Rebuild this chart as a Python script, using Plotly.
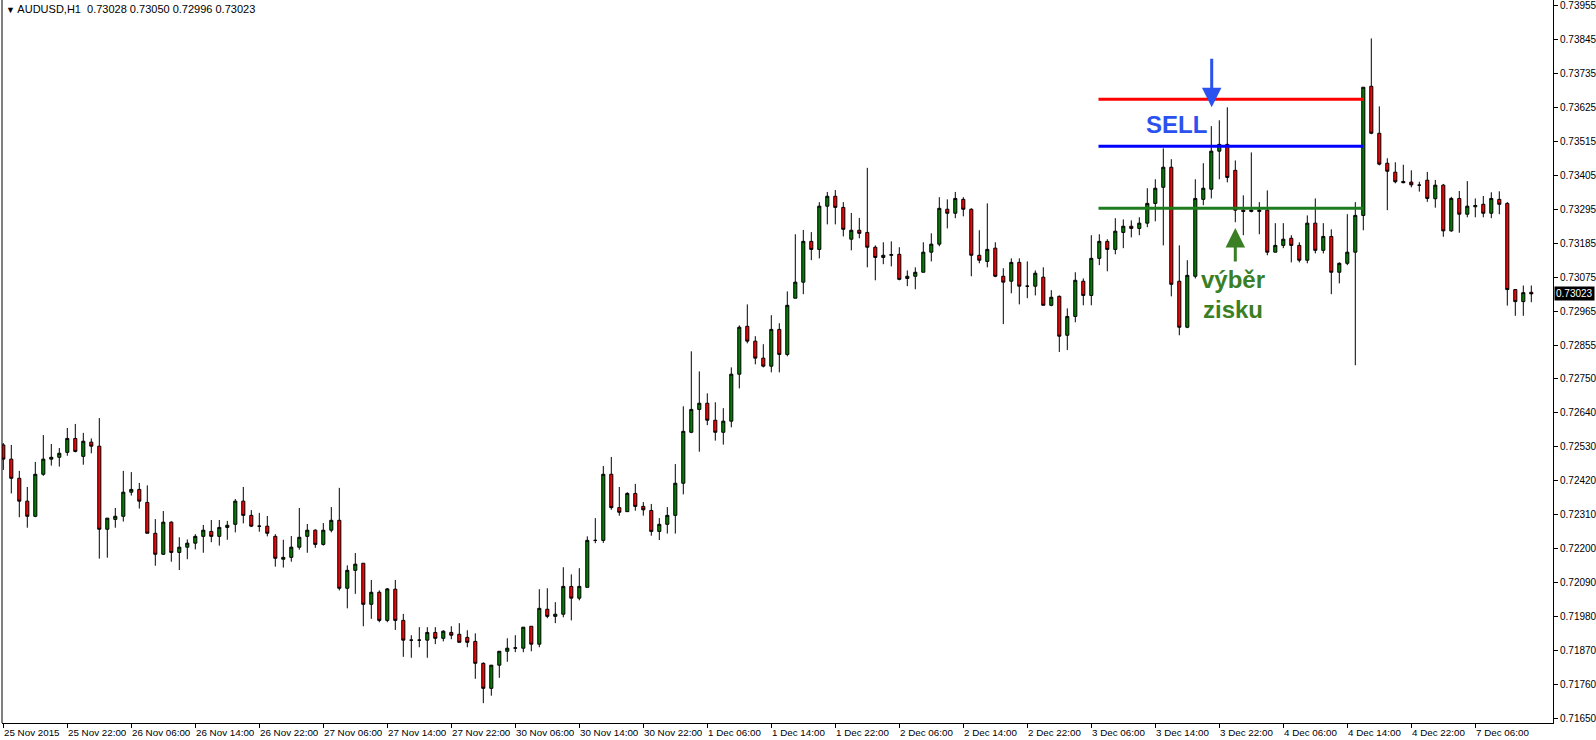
import pandas as pd
import plotly.graph_objects as go

# ---------------- data ----------------
times = pd.date_range("2015-11-25 14:00", "2015-12-07 13:00", freq="h")
times = times[times.dayofweek < 5]
categories = [t.strftime("%Y-%m-%d %H:%M") for t in times]

open_ = [
    0.72534, 0.72488, 0.72426, 0.72352, 0.72303, 0.72439, 0.72488, 0.72494, 0.72510, 0.72555,
    0.72497, 0.72543, 0.72530, 0.72261, 0.72293, 0.72303, 0.72381, 0.72390, 0.72348, 0.72248,
    0.72180, 0.72284, 0.72186, 0.72203, 0.72216, 0.72238, 0.72254, 0.72238, 0.72267, 0.72277,
    0.72352, 0.72306, 0.72271, 0.72271, 0.72238, 0.72164, 0.72170, 0.72203, 0.72238, 0.72258,
    0.72212, 0.72258, 0.72290, 0.72070, 0.72128, 0.72151, 0.72018, 0.72057, 0.71966, 0.72067,
    0.71966, 0.71902, 0.71902, 0.71902, 0.71927, 0.71908, 0.71927, 0.71921, 0.71911, 0.71898,
    0.71827, 0.71746, 0.71821, 0.71866, 0.71876, 0.71876, 0.71947, 0.71889, 0.72002, 0.71979,
    0.71986, 0.72076, 0.72038, 0.72073, 0.72225, 0.72225, 0.72439, 0.72331, 0.72318, 0.72377,
    0.72335, 0.72322, 0.72254, 0.72277, 0.72306, 0.72410, 0.72575, 0.72649, 0.72669, 0.72614,
    0.72575, 0.72611, 0.72763, 0.72918, 0.72870, 0.72815, 0.72789, 0.72908, 0.72827, 0.73009,
    0.73061, 0.73193, 0.73167, 0.73307, 0.73339, 0.73303, 0.73200, 0.73229, 0.73222, 0.73174,
    0.73141, 0.73148, 0.73151, 0.73073, 0.73080, 0.73093, 0.73158, 0.73184, 0.73297, 0.73284,
    0.73329, 0.73297, 0.73148, 0.73128, 0.73171, 0.73080, 0.73064, 0.73125, 0.73048, 0.73048,
    0.73077, 0.72986, 0.73015, 0.72889, 0.72950, 0.73064, 0.73018, 0.73138, 0.73193, 0.73167,
    0.73222, 0.73242, 0.73235, 0.73252, 0.73316, 0.73368, 0.73433, 0.73064, 0.72915, 0.73080,
    0.73329, 0.73362, 0.73485, 0.73507, 0.73423, 0.73294, 0.73290, 0.73290, 0.73294, 0.73158,
    0.73180, 0.73203, 0.73180, 0.73132, 0.73252, 0.73164, 0.73209, 0.73093, 0.73122, 0.73158,
    0.73277, 0.73695, 0.73543, 0.73446, 0.73417, 0.73387, 0.73385, 0.73375, 0.73391, 0.73331,
    0.73375, 0.73227, 0.73332, 0.73281, 0.73305, 0.73313, 0.73284, 0.73329, 0.73316, 0.73037,
    0.72998, 0.73028,
]

high = [
    0.72540, 0.72534, 0.72450, 0.72398, 0.72479, 0.72566, 0.72537, 0.72524, 0.72589, 0.72602,
    0.72573, 0.72555, 0.72621, 0.72297, 0.72330, 0.72450, 0.72446, 0.72411, 0.72403, 0.72294,
    0.72320, 0.72287, 0.72235, 0.72228, 0.72245, 0.72275, 0.72291, 0.72291, 0.72288, 0.72359,
    0.72398, 0.72323, 0.72314, 0.72304, 0.72245, 0.72227, 0.72239, 0.72330, 0.72278, 0.72261,
    0.72281, 0.72333, 0.72395, 0.72144, 0.72184, 0.72151, 0.72097, 0.72063, 0.72071, 0.72097,
    0.71987, 0.71918, 0.71944, 0.71944, 0.71944, 0.71934, 0.71947, 0.71957, 0.71934, 0.71924,
    0.71830, 0.71821, 0.71866, 0.71908, 0.71918, 0.71944, 0.71947, 0.72067, 0.72070, 0.72025,
    0.72138, 0.72115, 0.72135, 0.72238, 0.72297, 0.72466, 0.72495, 0.72398, 0.72381, 0.72408,
    0.72349, 0.72343, 0.72297, 0.72333, 0.72472, 0.72659, 0.72837, 0.72772, 0.72701, 0.72672,
    0.72653, 0.72785, 0.72921, 0.72989, 0.72886, 0.72860, 0.72954, 0.72928, 0.73031, 0.73216,
    0.73230, 0.73223, 0.73320, 0.73353, 0.73359, 0.73320, 0.73285, 0.73269, 0.73431, 0.73180,
    0.73190, 0.73193, 0.73174, 0.73099, 0.73109, 0.73190, 0.73219, 0.73336, 0.73329, 0.73353,
    0.73336, 0.73300, 0.73229, 0.73316, 0.73190, 0.73106, 0.73138, 0.73138, 0.73128, 0.73099,
    0.73109, 0.73035, 0.73018, 0.72976, 0.73093, 0.73073, 0.73213, 0.73216, 0.73200, 0.73268,
    0.73264, 0.73261, 0.73271, 0.73365, 0.73394, 0.73494, 0.73459, 0.73180, 0.73132, 0.73394,
    0.73446, 0.73566, 0.73585, 0.73627, 0.73455, 0.73342, 0.73481, 0.73320, 0.73358, 0.73252,
    0.73252, 0.73213, 0.73190, 0.73277, 0.73332, 0.73252, 0.73232, 0.73125, 0.73281, 0.73320,
    0.73692, 0.73850, 0.73630, 0.73462, 0.73449, 0.73441, 0.73423, 0.73386, 0.73418, 0.73392,
    0.73379, 0.73337, 0.73356, 0.73388, 0.73332, 0.73340, 0.73352, 0.73355, 0.73320, 0.73037,
    0.73050, 0.73050,
]

low = [
    0.72453, 0.72377, 0.72300, 0.72266, 0.72300, 0.72434, 0.72467, 0.72464, 0.72499, 0.72510,
    0.72470, 0.72507, 0.72166, 0.72169, 0.72266, 0.72286, 0.72370, 0.72328, 0.72248, 0.72143,
    0.72178, 0.72156, 0.72129, 0.72164, 0.72196, 0.72185, 0.72219, 0.72208, 0.72227, 0.72251,
    0.72280, 0.72268, 0.72253, 0.72238, 0.72140, 0.72137, 0.72156, 0.72195, 0.72185, 0.72201,
    0.72208, 0.72251, 0.72063, 0.72005, 0.72052, 0.71947, 0.71971, 0.71960, 0.71960, 0.71935,
    0.71848, 0.71845, 0.71879, 0.71845, 0.71889, 0.71898, 0.71905, 0.71895, 0.71879, 0.71777,
    0.71698, 0.71722, 0.71780, 0.71832, 0.71863, 0.71863, 0.71866, 0.71879, 0.71973, 0.71957,
    0.71976, 0.71966, 0.72031, 0.72073, 0.72216, 0.72217, 0.72324, 0.72305, 0.72318, 0.72321,
    0.72305, 0.72240, 0.72226, 0.72247, 0.72247, 0.72374, 0.72572, 0.72512, 0.72598, 0.72548,
    0.72535, 0.72591, 0.72717, 0.72863, 0.72795, 0.72785, 0.72769, 0.72769, 0.72821, 0.73009,
    0.73022, 0.73132, 0.73138, 0.73248, 0.73248, 0.73209, 0.73164, 0.73203, 0.73109, 0.73067,
    0.73119, 0.73112, 0.73067, 0.73048, 0.73038, 0.73093, 0.73128, 0.73177, 0.73235, 0.73268,
    0.73274, 0.73080, 0.73122, 0.73109, 0.73077, 0.72925, 0.73025, 0.72989, 0.73009, 0.73018,
    0.72986, 0.72983, 0.72835, 0.72841, 0.72931, 0.72986, 0.72986, 0.73116, 0.73096, 0.73151,
    0.73171, 0.73206, 0.73213, 0.73239, 0.73258, 0.73180, 0.73015, 0.72889, 0.72912, 0.73073,
    0.73310, 0.73332, 0.73394, 0.73384, 0.73255, 0.73213, 0.73287, 0.73216, 0.73148, 0.73158,
    0.73171, 0.73125, 0.73125, 0.73122, 0.73154, 0.73154, 0.73022, 0.73057, 0.73116, 0.72792,
    0.73229, 0.73540, 0.73439, 0.73294, 0.73381, 0.73381, 0.73368, 0.73354, 0.73321, 0.73302,
    0.73208, 0.73224, 0.73221, 0.73271, 0.73271, 0.73271, 0.73268, 0.73281, 0.72985, 0.72952,
    0.72952, 0.72996,
]

close = [
    0.72488, 0.72426, 0.72352, 0.72303, 0.72439, 0.72488, 0.72494, 0.72507, 0.72555, 0.72513,
    0.72546, 0.72530, 0.72261, 0.72297, 0.72303, 0.72381, 0.72390, 0.72352, 0.72248, 0.72180,
    0.72284, 0.72186, 0.72203, 0.72216, 0.72238, 0.72258, 0.72238, 0.72267, 0.72274, 0.72352,
    0.72306, 0.72271, 0.72271, 0.72248, 0.72167, 0.72170, 0.72203, 0.72235, 0.72258, 0.72212,
    0.72258, 0.72290, 0.72070, 0.72128, 0.72148, 0.72018, 0.72057, 0.71966, 0.72068, 0.71966,
    0.71902, 0.71902, 0.71902, 0.71927, 0.71908, 0.71931, 0.71918, 0.71895, 0.71895, 0.71827,
    0.71746, 0.71821, 0.71866, 0.71876, 0.71877, 0.71944, 0.71889, 0.72005, 0.71979, 0.71986,
    0.72076, 0.72038, 0.72076, 0.72225, 0.72225, 0.72439, 0.72331, 0.72316, 0.72377, 0.72335,
    0.72324, 0.72254, 0.72277, 0.72306, 0.72410, 0.72578, 0.72649, 0.72669, 0.72614, 0.72575,
    0.72611, 0.72763, 0.72915, 0.72870, 0.72815, 0.72789, 0.72908, 0.72827, 0.72986, 0.73061,
    0.73193, 0.73167, 0.73307, 0.73339, 0.73303, 0.73232, 0.73229, 0.73219, 0.73174, 0.73141,
    0.73148, 0.73150, 0.73070, 0.73080, 0.73093, 0.73158, 0.73184, 0.73300, 0.73284, 0.73332,
    0.73297, 0.73148, 0.73132, 0.73167, 0.73080, 0.73061, 0.73125, 0.73048, 0.73048, 0.73090,
    0.72986, 0.73012, 0.72886, 0.72950, 0.73067, 0.73018, 0.73138, 0.73193, 0.73167, 0.73226,
    0.73242, 0.73235, 0.73252, 0.73316, 0.73365, 0.73433, 0.73054, 0.72915, 0.73083, 0.73332,
    0.73365, 0.73485, 0.73507, 0.73400, 0.73294, 0.73290, 0.73294, 0.73294, 0.73158, 0.73180,
    0.73200, 0.73180, 0.73132, 0.73252, 0.73164, 0.73209, 0.73093, 0.73122, 0.73158, 0.73277,
    0.73692, 0.73543, 0.73443, 0.73420, 0.73386, 0.73383, 0.73376, 0.73375, 0.73332, 0.73375,
    0.73227, 0.73332, 0.73281, 0.73307, 0.73309, 0.73284, 0.73332, 0.73313, 0.73037, 0.72998,
    0.73027, 0.73023,
]

x_tick_labels = [
    "25 Nov 2015", "25 Nov 22:00", "26 Nov 06:00", "26 Nov 14:00", "26 Nov 22:00",
    "27 Nov 06:00", "27 Nov 14:00", "27 Nov 22:00", "30 Nov 06:00", "30 Nov 14:00",
    "30 Nov 22:00", "1 Dec 06:00", "1 Dec 14:00", "1 Dec 22:00", "2 Dec 06:00",
    "2 Dec 14:00", "2 Dec 22:00", "3 Dec 06:00", "3 Dec 14:00", "3 Dec 22:00",
    "4 Dec 06:00", "4 Dec 14:00", "4 Dec 22:00", "7 Dec 06:00",
]
x_tick_step = 8

y_tick_values = [
    0.73955, 0.73845, 0.73735, 0.73625, 0.73515, 0.73405, 0.73295, 0.73185, 0.73075,
    0.72965, 0.72855, 0.72750, 0.72640, 0.72530, 0.72420, 0.72310, 0.72200, 0.72090,
    0.71980, 0.71870, 0.71760, 0.71650,
]

symbol = "AUDUSD,H1"
last_bar = (0.73028, 0.73050, 0.72996, 0.73023)

# drawn levels (price) and their start/end bar positions
level_red = 0.73653
level_blue = 0.73501
level_green = 0.73300
level_start, level_end = 136.9, 170.0

sell_arrow_tip = (151.05, 0.73627)
profit_arrow_tip = (154.0, 0.73236)

# ---------------- figure ----------------
FONT = "Liberation Sans"
BLUE_TXT = "#2B52EE"
GREEN_TXT = "#3A7F24"

fig = go.Figure()
fig.add_trace(go.Candlestick(
    x=categories, open=open_, high=high, low=low, close=close,
    increasing=dict(fillcolor="#008000", line=dict(color="black", width=1)),
    decreasing=dict(fillcolor="#FF0000", line=dict(color="black", width=1)),
    whiskerwidth=0,
    hoverinfo="skip",
    showlegend=False,
))

shapes = [
    dict(type="line", xref="paper", yref="paper", x0=0, x1=0, y0=0, y1=1,
         line=dict(color="black", width=1)),
]
for lvl, col in [(level_red, "#FF0000"), (level_blue, "#0000FF"), (level_green, "#1E7B1E")]:
    shapes.append(dict(type="line", xref="x", yref="y", x0=level_start, x1=level_end,
                       y0=lvl, y1=lvl, line=dict(color=col, width=3)))

annotations = []
for k, lab in enumerate(x_tick_labels):
    annotations.append(dict(
        x=categories[k * x_tick_step], y=0, xref="x", yref="paper",
        xanchor="left", yanchor="top", yshift=-2, xshift=-1,
        text=lab, showarrow=False, font=dict(family=FONT, size=9.8, color="black"),
    ))

title_text = ('<span style="font-size:9px">\u25BC</span> ' + symbol + "\u00a0\u00a0" +
              " ".join(f"{v:.5f}" for v in last_bar))
annotations.append(dict(
    x=0, y=1, xref="paper", yref="paper", xanchor="left", yanchor="top",
    xshift=2, yshift=-1, text=title_text, showarrow=False,
    font=dict(family=FONT, size=11, color="black"),
))

annotations.append(dict(
    x=1, y=last_bar[3], xref="paper", yref="y", xanchor="left", yanchor="middle",
    xshift=1, text=f"{last_bar[3]:.5f}", showarrow=False, bgcolor="black",
    borderpad=1, font=dict(family=FONT, size=10, color="white"),
))

annotations.append(dict(
    x=sell_arrow_tip[0], y=sell_arrow_tip[1], xref="x", yref="y", text="",
    showarrow=True, ax=0, ay=-50, arrowhead=2, arrowsize=1.3, arrowwidth=3,
    arrowcolor=BLUE_TXT,
))
annotations.append(dict(
    x=profit_arrow_tip[0], y=profit_arrow_tip[1], xref="x", yref="y", text="",
    showarrow=True, ax=0, ay=35, arrowhead=2, arrowsize=1.3, arrowwidth=3,
    arrowcolor=GREEN_TXT,
))
annotations.append(dict(
    x=146.7, y=0.73572, xref="x", yref="y", text="<b>SELL</b>", showarrow=False,
    font=dict(family=FONT, size=24, color=BLUE_TXT),
))
annotations.append(dict(
    x=153.7, y=0.73068, xref="x", yref="y", text="<b>výběr</b>", showarrow=False,
    font=dict(family=FONT, size=24, color=GREEN_TXT),
))
annotations.append(dict(
    x=153.7, y=0.72974, xref="x", yref="y", text="<b>zisku</b>", showarrow=False,
    font=dict(family=FONT, size=24, color=GREEN_TXT),
))

fig.update_layout(
    width=1596, height=740,
    margin=dict(l=2, r=43, t=0, b=17, pad=0),
    paper_bgcolor="white", plot_bgcolor="white",
    boxgap=0.45,
    showlegend=False,
    shapes=shapes, annotations=annotations,
    xaxis=dict(
        type="category", range=[-0.1625, 193.7125],
        rangeslider=dict(visible=False),
        showgrid=False, zeroline=False,
        showline=True, linecolor="black", linewidth=1,
        ticks="outside", ticklen=4, tickcolor="black", tickwidth=1,
        tickvals=categories[::x_tick_step], showticklabels=False,
    ),
    yaxis=dict(
        side="right", range=[0.716338, 0.739744],
        showgrid=False, zeroline=False,
        showline=True, linecolor="black", linewidth=1,
        ticks="outside", ticklen=4, tickcolor="black", tickwidth=1,
        tickvals=y_tick_values, ticktext=[f"{v:.5f}" for v in y_tick_values],
        tickfont=dict(family=FONT, size=10, color="black"),
    ),
)

fig.write_html(
    "out.html",
    config={"displayModeBar": False},
    post_script="document.body.style.margin='0';document.body.style.overflow='hidden';",
)
